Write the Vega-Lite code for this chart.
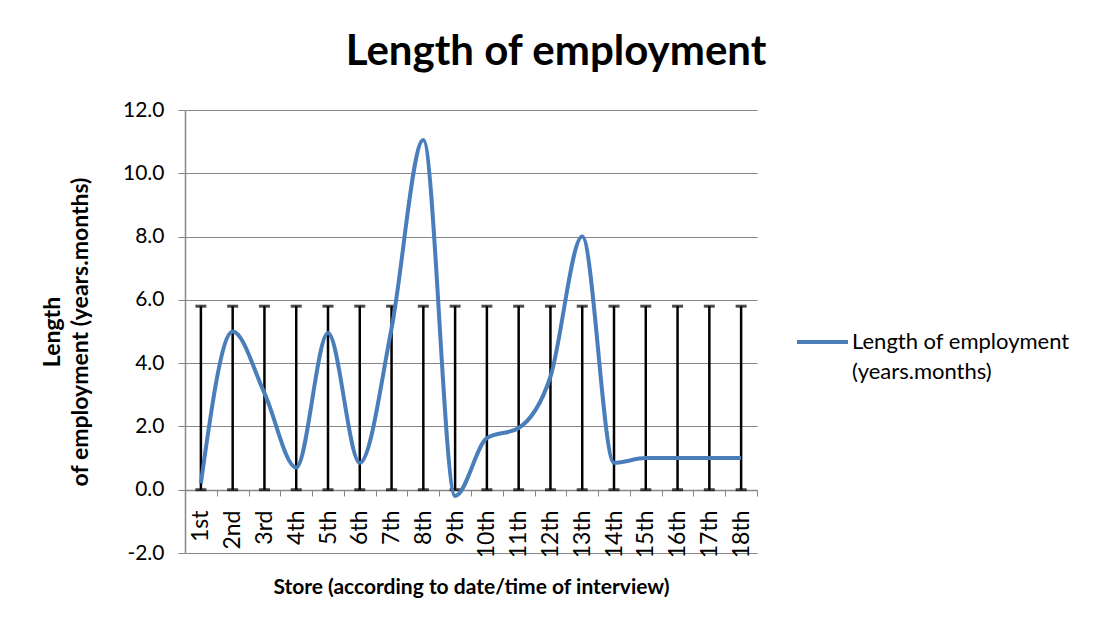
{
  "$schema": "https://vega.github.io/schema/vega-lite/v6.json",
  "autosize": {"type": "none"},
  "width": 572,
  "height": 443,
  "padding": {"left": 185, "top": 110, "right": 340, "bottom": 75},
  "background": "white",
  "config": {
    "font": "Lato",
    "view": {"stroke": null}
  },
  "title": {
    "text": "Length of employment",
    "fontSize": 42,
    "fontWeight": "bold",
    "color": "#000000",
    "anchor": "middle",
    "dx": 85,
    "offset": 25
  },
  "data": {
    "values": [
      {"store": "1st", "years": 0.2, "lo": 0, "hi": 5.8},
      {"store": "2nd", "years": 5.0, "lo": 0, "hi": 5.8},
      {"store": "3rd", "years": 3.05, "lo": 0, "hi": 5.8},
      {"store": "4th", "years": 0.7, "lo": 0, "hi": 5.8},
      {"store": "5th", "years": 4.95, "lo": 0, "hi": 5.8},
      {"store": "6th", "years": 0.85, "lo": 0, "hi": 5.8},
      {"store": "7th", "years": 5.1, "lo": 0, "hi": 5.8},
      {"store": "8th", "years": 11.05, "lo": 0, "hi": 5.8},
      {"store": "9th", "years": -0.2, "lo": 0, "hi": 5.8},
      {"store": "10th", "years": 1.63, "lo": 0, "hi": 5.8},
      {"store": "11th", "years": 1.95, "lo": 0, "hi": 5.8},
      {"store": "12th", "years": 3.57, "lo": 0, "hi": 5.8},
      {"store": "13th", "years": 8.0, "lo": 0, "hi": 5.8},
      {"store": "14th", "years": 0.85, "lo": 0, "hi": 5.8},
      {"store": "15th", "years": 1.0, "lo": 0, "hi": 5.8},
      {"store": "16th", "years": 1.0, "lo": 0, "hi": 5.8},
      {"store": "17th", "years": 1.0, "lo": 0, "hi": 5.8},
      {"store": "18th", "years": 1.0, "lo": 0, "hi": 5.8}
    ]
  },
  "encoding": {
    "x": {
      "field": "store",
      "type": "nominal",
      "sort": null,
      "scale": {"paddingInner": 0, "paddingOuter": 0},
      "axis": {
        "title": "Store (according to date/time of interview)",
        "titleFontSize": 21,
        "titleFontWeight": "bold",
        "titleColor": "#000000",
        "titlePadding": 19,
        "offset": -63,
        "labelAngle": -90,
        "labelFontSize": 23,
        "labelColor": "#000000",
        "labelPadding": 14,
        "tickBand": "extent",
        "tickSize": 6,
        "tickColor": "#868686",
        "domainColor": "#868686",
        "domainWidth": 1.5,
        "grid": false
      }
    }
  },
  "layer": [
    {
      "mark": {"type": "rule", "color": "#000000", "strokeWidth": 2.5},
      "encoding": {
        "y": {
          "field": "lo",
          "type": "quantitative",
          "scale": {"domain": [-2, 12], "nice": false, "zero": false},
          "axis": {
            "title": ["Length", "of employment (years.months)"],
            "titleFontSize": 23,
            "titleFontWeight": "bold",
            "titleColor": "#000000",
            "titleLineHeight": 28,
            "titlePadding": 30,
            "values": [-2, 0, 2, 4, 6, 8, 10, 12],
            "labelExpr": "datum.value < 0 ? '-' + format(-datum.value, '.1f') : format(datum.value, '.1f')",
            "labelFontSize": 21,
            "labelColor": "#000000",
            "labelPadding": 14,
            "tickSize": 7,
            "tickColor": "#868686",
            "domainColor": "#868686",
            "domainWidth": 1.5,
            "grid": true,
            "gridColor": "#868686",
            "gridWidth": 1.2
          }
        },
        "y2": {"field": "hi"}
      }
    },
    {
      "mark": {"type": "tick", "color": "#000000", "size": 11, "thickness": 3},
      "encoding": {"y": {"field": "hi", "type": "quantitative"}}
    },
    {
      "mark": {"type": "tick", "color": "#000000", "size": 11, "thickness": 3},
      "encoding": {"y": {"field": "lo", "type": "quantitative"}}
    },
    {
      "mark": {"type": "line", "interpolate": "monotone", "strokeWidth": 4},
      "encoding": {
        "y": {"field": "years", "type": "quantitative"},
        "color": {
          "datum": "Length of employment (years.months)",
          "type": "nominal",
          "scale": {"range": ["#4a7ebb"]},
          "legend": {
            "title": null,
            "orient": "none",
            "legendX": 610,
            "legendY": 218,
            "symbolType": "stroke",
            "symbolSize": 2600,
            "symbolStrokeWidth": 4,
            "labelFontSize": 22,
            "labelColor": "#000000",
            "labelLimit": 400,
            "labelOffset": 2,
            "labelBaseline": "middle",
            "labelExpr": "['Length of employment', '(years.months)']",
            "encode": {
              "labels": {"update": {"lineHeight": {"value": 30}, "y": {"value": 14}}},
              "symbols": {"update": {"y": {"value": 14}}}
            }
          }
        }
      }
    }
  ]
}
